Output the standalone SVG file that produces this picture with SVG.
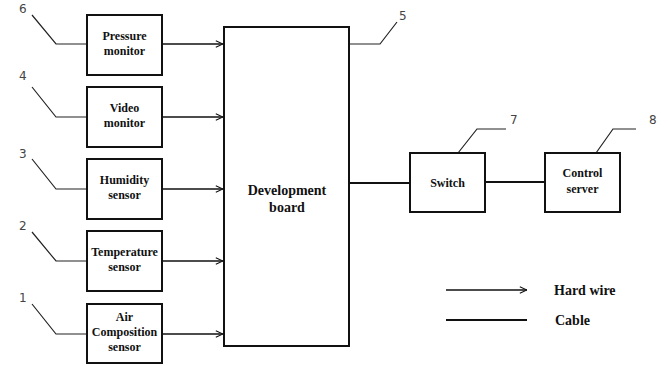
<svg xmlns="http://www.w3.org/2000/svg" width="670" height="366" viewBox="0 0 670 366">
<defs>
<marker id="arr" viewBox="0 0 10 10" refX="10" refY="5" markerWidth="8" markerHeight="8" markerUnits="userSpaceOnUse" orient="auto">
<path d="M1,1 L10,5 L1,9" fill="none" stroke="#111" stroke-width="1.4"/>
</marker>
<style>
.box{fill:#fff;stroke:#111;stroke-width:2}
.t{font-family:'Liberation Serif','Times New Roman','DejaVu Serif',serif;font-weight:bold;font-size:12px;fill:#111;text-anchor:middle}
.big{font-size:14px}
.lg{font-family:'Liberation Serif','Times New Roman','DejaVu Serif',serif;font-weight:bold;font-size:14px;fill:#111}
.n{font-family:'DejaVu Sans','Liberation Sans',sans-serif;font-size:12px;fill:#444}
.lead{fill:none;stroke:#222;stroke-width:1.2}
.wire{fill:none;stroke:#111;stroke-width:1.3;marker-end:url(#arr)}
.cable{fill:none;stroke:#111;stroke-width:2.2}
</style>
</defs>
<rect width="670" height="366" fill="#fff"/>
<g id="connectors">
<line class="wire" x1="162" y1="44" x2="223" y2="44"/>
<line class="wire" x1="162" y1="117" x2="223" y2="117"/>
<line class="wire" x1="162" y1="189" x2="223" y2="189"/>
<line class="wire" x1="162" y1="261" x2="223" y2="261"/>
<line class="wire" x1="162" y1="334" x2="223" y2="334"/>
<line class="cable" x1="349" y1="183" x2="410" y2="183"/>
<line class="cable" x1="485" y1="182" x2="545" y2="182"/>
</g>
<g id="leaders">
<polyline class="lead" points="32,15 56,44 87,44"/>
<polyline class="lead" points="32,87 56,117 87,117"/>
<polyline class="lead" points="32,159 56,189 87,189"/>
<polyline class="lead" points="32,232 56,261 87,261"/>
<polyline class="lead" points="32,304 56,334 87,334"/>
<polyline class="lead" points="349,44 380,44 397,22"/>
<polyline class="lead" points="458,153 477,129 506,129"/>
<polyline class="lead" points="596,153 613,129 636,129"/>
<text class="n" x="19" y="13">6</text>
<text class="n" x="19" y="80">4</text>
<text class="n" x="19" y="158">3</text>
<text class="n" x="19" y="230">2</text>
<text class="n" x="19" y="302">1</text>
<text class="n" x="399" y="20">5</text>
<text class="n" x="510" y="124">7</text>
<text class="n" x="649" y="124">8</text>
</g>
<g id="pressure"><rect class="box" x="87" y="15" width="75" height="60"/><text class="t" x="124.5" y="40">Pressure</text><text class="t" x="124.5" y="55">monitor</text></g>
<g id="video"><rect class="box" x="87" y="87" width="75" height="60"/><text class="t" x="124.5" y="112">Video</text><text class="t" x="124.5" y="127">monitor</text></g>
<g id="humidity"><rect class="box" x="87" y="159" width="75" height="60"/><text class="t" x="124.5" y="184">Humidity</text><text class="t" x="124.5" y="199">sensor</text></g>
<g id="temperature"><rect class="box" x="87" y="231" width="75" height="60"/><text class="t" x="124.5" y="256">Temperature</text><text class="t" x="124.5" y="271">sensor</text></g>
<g id="air"><rect class="box" x="87" y="304" width="75" height="59"/><text class="t" x="124.5" y="321">Air</text><text class="t" x="124.5" y="336">Composition</text><text class="t" x="124.5" y="351">sensor</text></g>
<g id="board"><rect class="box" x="224" y="27" width="125" height="319"/><text class="t big" x="287" y="195">Development</text><text class="t big" x="287" y="212">board</text></g>
<g id="switch"><rect class="box" x="410" y="153" width="75" height="59"/><text class="t" x="447.5" y="187">Switch</text></g>
<g id="server"><rect class="box" x="545" y="153" width="75" height="59"/><text class="t" x="582.5" y="177">Control</text><text class="t" x="582.5" y="193">server</text></g>
<g id="legend">
<line class="wire" x1="446" y1="290" x2="527" y2="290"/>
<line class="cable" x1="446" y1="320" x2="527" y2="320"/>
<text class="lg" x="554" y="295">Hard wire</text>
<text class="lg" x="555" y="325">Cable</text>
</g>
</svg>
